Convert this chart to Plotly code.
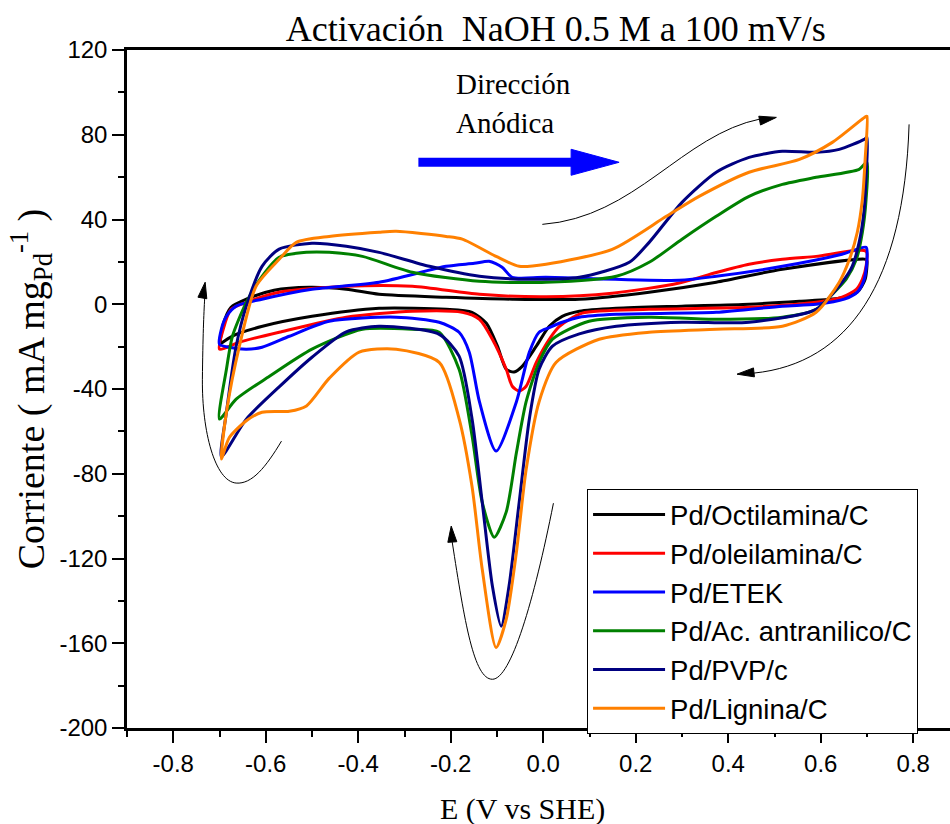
import math
import plotly.graph_objects as go

# ---- cyclic voltammograms: anodic sweep (-0.7 -> 0.7 V) followed by cathodic sweep back ----
oct_E = [-0.700, -0.692, -0.675, -0.642, -0.582, -0.506, -0.426, -0.355, -0.210, -0.067, 0.078, 0.229, 0.374, 0.517, 0.698,
         0.700, 0.696, 0.679, 0.640, 0.554, 0.445, 0.300, 0.158, 0.078, 0.041, 0.013, -0.015, -0.045, -0.063, -0.080,
         -0.099, -0.123, -0.154, -0.210, -0.355, -0.500, -0.607, -0.672, -0.700]
oct_I = [-19.8, -9.4, -1.4, 2.4, 6.6, 8.0, 7.1, 4.7, 3.3, 2.4, 2.4, 5.7, 10.4, 16.5, 21.2,
         20.3, 11.8, 5.7, 2.8, 1.4, 0.0, -0.9, -1.9, -3.3, -5.7, -10.4, -19.8, -29.2, -32.0, -30.7,
         -19.8, -9.0, -3.8, -2.4, -1.9, -5.7, -10.4, -15.0, -19.0]

ole_E = [-0.700, -0.692, -0.675, -0.642, -0.571, -0.426, -0.283, -0.138, 0.006, 0.149, 0.294, 0.374, 0.445, 0.517, 0.590, 0.698,
         0.698, 0.690, 0.677, 0.646, 0.590, 0.445, 0.229, 0.084, 0.035, 0.013, -0.015, -0.037, -0.052, -0.067, -0.080,
         -0.110, -0.138, -0.175, -0.283, -0.426, -0.571, -0.657, -0.700]
ole_I = [-21.2, -11.8, -2.4, 0.9, 5.7, 8.5, 8.5, 4.7, 3.5, 5.2, 10.0, 15.0, 18.9, 21.2, 22.6, 25.0,
         17.9, 11.8, 7.1, 3.3, 0.9, -1.4, -2.4, -4.2, -10.4, -16.5, -27.4, -38.7, -41.0, -38.7, -30.7,
         -16.5, -7.1, -3.8, -3.3, -6.1, -13.2, -17.9, -21.2]

etek_E = [-0.700, -0.696, -0.685, -0.664, -0.608, -0.500, -0.355, -0.210, -0.149, -0.117, -0.089, -0.067, 0.006, 0.294,
          0.374, 0.517, 0.646, 0.698,
          0.700, 0.694, 0.679, 0.651, 0.590, 0.517, 0.374, 0.158, 0.078, 0.041, 0.013, -0.009, -0.030, -0.058, -0.102,
          -0.138, -0.160, -0.182, -0.225, -0.318, -0.463, -0.549, -0.608, -0.642, -0.679, -0.700]
etek_I = [-18.9, -11.8, -5.7, -0.9, 2.4, 7.1, 10.4, 17.9, 19.3, 20.3, 17.5, 12.7, 12.7, 11.3,
          13.2, 17.9, 23.6, 26.9,
          21.2, 11.8, 5.7, 2.4, 0.0, -0.9, -3.8, -4.7, -6.1, -8.5, -11.0, -13.2, -22.6, -46.0, -69.3,
          -46.0, -22.6, -13.2, -8.5, -6.1, -8.0, -15.1, -20.3, -21.2, -20.3, -18.9]

ant_E = [-0.700, -0.685, -0.672, -0.642, -0.608, -0.571, -0.512, -0.463, -0.391, -0.283, -0.138, 0.006, 0.158, 0.229,
         0.300, 0.374, 0.445, 0.517, 0.590, 0.683,
         0.700, 0.698, 0.690, 0.677, 0.655, 0.625, 0.590, 0.517, 0.374, 0.229, 0.099, 0.020, -0.009, -0.037, -0.058,
         -0.080, -0.106, -0.132, -0.154, -0.182, -0.225, -0.283, -0.391, -0.500, -0.592, -0.664, -0.700]
ant_I = [-54.2, -30.7, -15.1, 0.9, 13.2, 22.2, 24.5, 24.5, 22.6, 15.1, 10.8, 10.4, 13.2, 19.8,
         30.7, 41.5, 50.9, 56.6, 59.9, 63.7,
         67.0, 49.5, 34.0, 21.2, 11.8, 4.7, -2.4, -6.1, -7.1, -6.1, -8.0, -16.5, -27.4, -46.0, -70.0,
         -98.0, -110.0, -93.4, -62.0, -30.7, -13.2, -11.8, -11.8, -21.2, -34.0, -44.8, -54.2]

pvp_E = [-0.696, -0.685, -0.664, -0.642, -0.608, -0.571, -0.500, -0.426, -0.355, -0.246, -0.138, -0.030, 0.078, 0.186,
         0.229, 0.300, 0.374, 0.445, 0.517, 0.590, 0.640, 0.694,
         0.700, 0.698, 0.694, 0.683, 0.668, 0.646, 0.590, 0.445, 0.300, 0.158, 0.078, 0.020, -0.009, -0.030, -0.052,
         -0.074, -0.091, -0.110, -0.132, -0.154, -0.182, -0.225, -0.355, -0.426, -0.500, -0.571, -0.642, -0.696]
pvp_I = [-72.0, -51.0, -19.8, -0.9, 17.9, 26.0, 28.8, 27.4, 24.5, 17.9, 13.2, 11.8, 12.7, 19.8,
         29.2, 48.1, 62.3, 69.3, 72.2, 71.7, 73.1, 77.8,
         78.8, 60.4, 44.8, 29.2, 17.9, 10.4, -2.4, -8.5, -8.5, -10.4, -14.0, -19.8, -30.7, -54.0, -93.4,
         -133.0, -152.0, -133.0, -93.4, -54.0, -24.5, -14.2, -10.4, -13.0, -25.0, -39.0, -54.2, -72.0]

lig_E = [-0.696, -0.685, -0.657, -0.621, -0.571, -0.534, -0.463, -0.355, -0.318, -0.210, -0.175, -0.102, -0.052, 0.006,
         0.149, 0.266, 0.337, 0.445, 0.554, 0.625, 0.698,
         0.700, 0.696, 0.690, 0.679, 0.662, 0.640, 0.590, 0.517, 0.374, 0.229, 0.121, 0.028, -0.009, -0.037, -0.058,
         -0.080, -0.102, -0.132, -0.154, -0.182, -0.225, -0.318, -0.398, -0.463, -0.512, -0.549, -0.608, -0.642,
         -0.679, -0.696]
lig_I = [-73.0, -51.0, -19.8, 8.5, 21.2, 29.2, 32.0, 34.0, 34.4, 32.0, 30.7, 22.6, 17.9, 18.9,
         25.9, 41.5, 50.9, 62.3, 68.4, 76.4, 88.7,
         88.7, 68.4, 49.5, 34.0, 21.2, 10.4, -3.8, -10.4, -11.8, -13.2, -16.5, -27.4, -46.0, -78.0, -117.0,
         -148.6, -162.0, -125.0, -86.0, -54.0, -27.4, -21.2, -22.6, -35.0, -48.0, -50.5, -51.0, -55.0,
         -63.0, -73.0]

series_names = ["Pd/Octilamina/C", "Pd/oleilamina/C", "Pd/ETEK", "Pd/Ac. antranilico/C", "Pd/PVP/c", "Pd/Lignina/C"]
series_E = [oct_E, ole_E, etek_E, ant_E, pvp_E, lig_E]
series_I = [oct_I, ole_I, etek_I, ant_I, pvp_I, lig_I]
series_colors = ["#000000", "#ff0000", "#0000ff", "#008000", "#000080", "#ff8000"]

x_ticks = [-0.8, -0.6, -0.4, -0.2, 0.0, 0.2, 0.4, 0.6, 0.8]
x_ticktext = ["-0.8", "-0.6", "-0.4", "-0.2", "0.0", "0.2", "0.4", "0.6", "0.8"]
y_ticks = [-200, -160, -120, -80, -40, 0, 40, 80, 120]
y_ticktext = ["-200", "-160", "-120", "-80", "-40", "0", "40", "80", "120"]

SERIF = "Liberation Serif, Times New Roman, serif"
SANS = "Liberation Sans, Arial, sans-serif"

fig = go.Figure()
for name, E, I, col in zip(series_names, series_E, series_I, series_colors):
    fig.add_trace(go.Scatter(
        x=E, y=I, mode="lines", name=name,
        line=dict(color=col, width=3, shape="spline", smoothing=0.7),
    ))


def arrow_head(x, y, angle_deg, length, half, color):
    """Filled triangular head whose tip sits at data point (x, y); size in pixels."""
    a = math.radians(angle_deg)
    bx, by = -length * math.cos(a), -length * math.sin(a)
    px, py = -math.sin(a) * half, math.cos(a) * half
    path = (f"M 0,0 L {bx + px:.2f},{by + py:.2f} "
            f"L {bx - px:.2f},{by - py:.2f} Z")
    return dict(type="path", xref="x", yref="y", xsizemode="pixel", ysizemode="pixel",
                xanchor=x, yanchor=y, path=path, fillcolor=color,
                line=dict(color=color, width=1), layer="above")


def thin_curve(path):
    return dict(type="path", xref="x", yref="y", path=path,
                line=dict(color="black", width=1), layer="above")


shapes = [
    # sweep-direction guides
    thin_curve("M -0.002,37.7 C 0.20,41 0.30,80 0.47,87.5"),
    arrow_head(0.504, 88.2, 11, 17, 4.5, "black"),
    thin_curve("M 0.791,84.9 C 0.78,10 0.66,-28 0.455,-32.5"),
    arrow_head(0.419, -33.0, 186, 17, 4.5, "black"),
    thin_curve("M -0.566,-64.6 C -0.60,-77 -0.63,-85 -0.664,-84.4 "
               "C -0.71,-83.5 -0.738,-60 -0.737,-35.4 C -0.736,-15 -0.734,-5 -0.732,3"),
    arrow_head(-0.731, 10.4, 80, 16, 4.5, "black"),
    thin_curve("M 0.022,-93.9 C -0.02,-140 -0.07,-177 -0.110,-177 "
               "C -0.15,-177 -0.17,-150 -0.197,-112"),
    arrow_head(-0.199, -104.7, 94, 16, 4.5, "black"),
    # anodic direction arrow
    dict(type="line", xref="x", yref="y", x0=-0.27, y0=67.0, x1=0.08, y1=67.0,
         line=dict(color="#0000ff", width=9), layer="above"),
    arrow_head(0.164, 67.0, 0, 48, 13, "#0000ff"),
]

annotations = [
    dict(text="Dirección", x=-0.192, y=103.8, xref="x", yref="y", xanchor="left", yanchor="middle",
         showarrow=False, font=dict(family=SERIF, size=29, color="black")),
    dict(text="Anódica", x=-0.192, y=85.4, xref="x", yref="y", xanchor="left", yanchor="middle",
         showarrow=False, font=dict(family=SERIF, size=29, color="black")),
    dict(text="E (V vs SHE)", x=0.48, y=-0.12, xref="paper", yref="paper", xanchor="center",
         yanchor="middle", showarrow=False, font=dict(family=SERIF, size=30, color="black")),
]

fig.update_layout(
    width=950, height=824,
    margin=dict(l=127, r=0, t=50, b=96),
    paper_bgcolor="white", plot_bgcolor="white",
    title=dict(text="Activación  NaOH 0.5 M a 100 mV/s", xref="container", yref="container",
               x=0.585, y=1 - 28 / 824, xanchor="center", yanchor="middle",
               font=dict(family=SERIF, size=36, color="black")),
    shapes=shapes,
    annotations=annotations,
    legend=dict(x=0.559, y=0.3525, xanchor="left", yanchor="top", bgcolor="white",
                bordercolor="black", borderwidth=1, font=dict(family=SANS, size=27.5, color="black"),
                itemwidth=72),
    showlegend=True,
)

fig.update_xaxes(
    range=[-0.9, -0.9 + 823 / 462.5], tickmode="array", tickvals=x_ticks, ticktext=x_ticktext,
    ticks="outside", ticklen=12, tickwidth=2, tickcolor="black",
    minor=dict(dtick=0.1, tick0=-0.9, ticks="outside", ticklen=6, tickwidth=2, tickcolor="black"),
    showline=True, linewidth=2.5, linecolor="black", mirror=True,
    showgrid=False, zeroline=False,
    tickfont=dict(family=SANS, size=24, color="black"),
)
fig.update_yaxes(
    range=[-200, 120], tickmode="array", tickvals=y_ticks, ticktext=y_ticktext,
    ticks="outside", ticklen=12, tickwidth=2, tickcolor="black",
    minor=dict(dtick=20, tick0=0, ticks="outside", ticklen=6, tickwidth=2, tickcolor="black"),
    showline=True, linewidth=2.5, linecolor="black",
    showgrid=False, zeroline=False,
    tickfont=dict(family=SANS, size=24, color="black"),
    title=dict(text="Corriente ( mA mg<sub>Pd</sub><sup>-1</sup> )", standoff=4,
               font=dict(family=SERIF, size=38, color="black")),
)

fig.write_html("out.html")
